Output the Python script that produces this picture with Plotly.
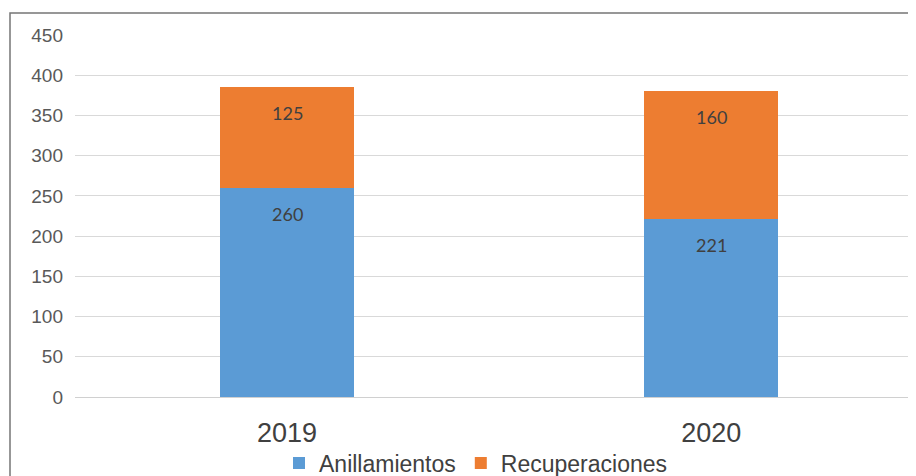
import plotly.graph_objects as go

years = ["2019", "2020"]
anillamientos = [260, 221]
recuperaciones = [125, 160]
y_ticks = [0, 50, 100, 150, 200, 250, 300, 350, 400, 450]

# The page has an 8px body margin, so the figure is laid out 8px in from the edges
W, H = 908, 468
L, R, T, B = 67, 0, 27, 79
pw = W - L - R
ph = H - T - B

label_font = dict(family="Lato, Calibri, sans-serif", size=18, color="#404040")

fig = go.Figure()
fig.add_trace(go.Bar(
    x=years, y=anillamientos, name="Anillamientos",
    marker=dict(color="#5B9BD5", line=dict(width=0)),
    width=0.316, hoverinfo="x+y",
))
fig.add_trace(go.Bar(
    x=years, y=recuperaciones, name="Recuperaciones",
    marker=dict(color="#ED7D31", line=dict(width=0)),
    width=0.316, hoverinfo="x+y",
))

# data labels near the top of each segment (Excel "inside end")
for i, yr in enumerate(years):
    top_a = anillamientos[i]
    top_r = anillamientos[i] + recuperaciones[i]
    for val, top in ((anillamientos[i], top_a), (recuperaciones[i], top_r)):
        fig.add_annotation(
            x=i, y=top, xref="x", yref="y", text=str(val), showarrow=False,
            yanchor="middle", yshift=-26, font=label_font,
        )

fig.update_layout(
    width=W, height=H,
    margin=dict(l=L, r=R, t=T, b=B, pad=0, autoexpand=False),
    barmode="stack",
    paper_bgcolor="white", plot_bgcolor="white",
    font=dict(family="Liberation Sans, Arial, sans-serif", color="#595959"),
    xaxis=dict(
        type="category", range=[-0.5, 1.483], showgrid=False, showline=False,
        zeroline=False, ticks="", tickfont=dict(size=27, color="#404040"),
        ticklabelstandoff=17, fixedrange=True, automargin=False,
    ),
    yaxis=dict(
        range=[0, 450], tickvals=y_ticks, showgrid=True, gridcolor="#D9D9D9",
        gridwidth=1.3, zeroline=True, zerolinecolor="#D0D0D0", zerolinewidth=1.3,
        showline=False, ticks="", tickfont=dict(size=19, color="#595959"),
        ticklabelstandoff=11, fixedrange=True, automargin=False,
    ),
    legend=dict(
        orientation="h", x=(468 - L) / pw, xanchor="center",
        y=(389 - 455) / ph, yanchor="middle",
        font=dict(size=23, color="#404040"), itemwidth=30,
        traceorder="normal", bgcolor="rgba(0,0,0,0)",
    ),
    showlegend=True,
)

fig.add_shape(
    type="rect", xref="paper", yref="paper",
    x0=(2 - L) / pw, x1=2.0, y0=-2.0, y1=(389 - 5) / ph,
    line=dict(color="#767676", width=1.5), fillcolor="rgba(0,0,0,0)",
    layer="above",
)

fig.write_html("out.html")
